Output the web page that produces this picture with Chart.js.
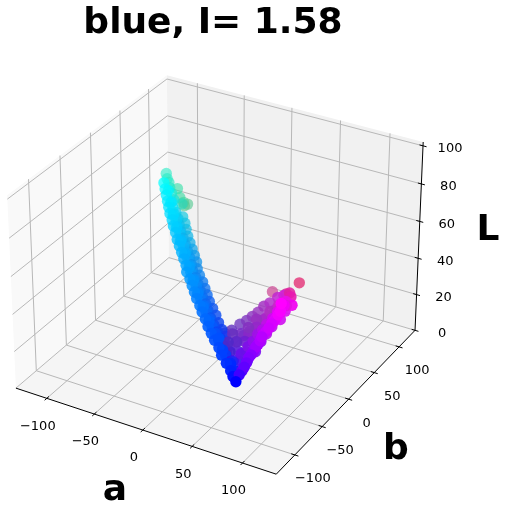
<!DOCTYPE html>
<html>
<head>
<meta charset="utf-8">
<style>
  html, body { margin: 0; padding: 0; background: #fff; }
  #c { display: block; }
</style>
<script src="https://cdn.jsdelivr.net/npm/chart.js@4"></script>
</head>
<body>
<canvas id="c" width="508" height="507"></canvas>
<script>
const titleText = 'blue, I= 1.58';
const aTicks = [-100, -50, 0, 50, 100];
const bTicks = [-100, -50, 0, 50, 100];
const lTicks = [0, 20, 40, 60, 80, 100];

// Lab values. Rows: teal end, saturated arm, duller arm rows,
// magenta edge, purple rows, stray pinks, purple fill
const aVals = [
  -57, -55, -52, -50, -47, -45, -42, -40, -37, -38, -38, -43,
  -48, -45, -42, -39, -36, -33, -29, -26, -22, -18, -14, -10, -6, -2, 1, 6, 10, 14, 18, 23, 27, 32, 37, 42, 47, 53, 58, 65, 71, 75, 79,
  -39, -36, -33, -29, -26, -22, -18, -14, -10, -6, -2, 1, 6, 10, 14, 18, 23, 27, 32, 37, 42, 47, 53, 58, 65, 71,
  -33, -29, -26, -22, -18, -14, -10, -6, -2, 1, 6, 10, 14, 18, 23, 27, 32, 37, 42, 47, 53, 58, 65,
  -43, -37, -31, -24, -16, -8, 0, 8, 16, 25, 35, 50, 56, 68,
  -29, -22, -14, -6, 1, 10, 18, 27, 37, 47,
  -25, -18, -10, -2, 5, 14, 22, 32, 42,
  80, 82, 83, 85, 86, 88, 89, 92, 94, 96, 96,
  81, 82.5, 84, 85.5, 87, 88.5, 90.5, 93, 95, 97,
  38, 44, 50, 55, 59, 63, 67, 72, 78, 84,
  52, 57, 62, 66, 70, 74, 78, 83, 88, 92,
  65, 70, 74, 77, 79, 82, 84, 88, 91, 95,
  84, 71, 83, 88, 92,
  64, 71, 76,
  60, 66, 72, 79,
  57, 63, 69, 75, 81,
  57, 63, 69, 75, 82,
  68, 74, 80, 85,
  72, 78, 85, 90,
  82, 87, 93,
  88, 94, 98
];
const bVals = [
  5, 3, 1, -1, -3, 4, 3, 6, 8, 4, 0, -6,
  -14, -17, -20, -23, -26, -29, -32, -35, -38, -42, -45, -48, -51, -54, -58, -61, -64, -67, -70, -73, -76, -79, -83, -86, -89, -92, -96, -100, -103, -106, -108,
  -16, -19, -22, -25, -28, -31, -35, -38, -41, -44, -47, -51, -54, -57, -60, -63, -66, -69, -72, -76, -79, -82, -85, -89, -93, -96,
  -19, -22, -25, -29, -32, -35, -38, -41, -45, -48, -51, -54, -57, -60, -63, -66, -70, -73, -76, -79, -83, -87, -90,
  -15, -21, -27, -33, -40, -46, -52, -59, -65, -71, -78, -87, -91, -98,
  -14, -20, -27, -33, -40, -46, -52, -58, -65, -71,
  -17, -24, -30, -36, -43, -49, -55, -61, -68,
  -104, -99, -93, -89, -86, -82, -78, -74, -69, -65, -60,
  -101, -96, -91, -87, -84, -80, -76, -71, -67, -63,
  -56, -54, -50, -47, -44, -41, -38, -36, -33, -33,
  -72, -68, -64, -61, -58, -54, -50, -47, -45, -44,
  -88, -83, -78, -74, -70, -67, -63, -60, -57, -53,
  -5, -30, -27, -30, -35,
  -90, -86, -83,
  -85, -81, -78, -74,
  -83, -79, -75, -72, -68,
  -75, -71, -68, -64, -60,
  -67, -63, -59, -56,
  -60, -56, -53, -50,
  -54, -50, -47,
  -50, -47, -44
];
const lVals = [
  90, 88, 87, 85, 83, 84, 80, 77, 76, 76, 78, 81,
  91, 89, 87, 85, 83, 81, 79, 77, 75, 73, 71, 69, 67, 65, 63, 61, 59, 57, 55, 53, 51, 49, 47, 45, 43, 41, 39, 37, 35, 33.5, 32,
  83, 81, 79, 77, 75, 73, 71, 69, 67, 65, 63, 61, 59, 57, 55, 53, 51, 49, 47, 45, 43, 41, 39, 37, 35, 33,
  79, 77, 75, 73, 71, 69, 67, 65, 63, 61, 59, 57, 55, 53, 51, 49, 47, 45, 43, 41, 39, 37, 35,
  88, 84, 80, 76, 72, 68, 64, 60, 56, 52, 48, 44, 40, 36,
  76, 72, 68, 64, 60, 56, 52, 48, 44, 40,
  74, 70, 66, 62, 58, 54, 50, 46, 42,
  34.6, 37.5, 40.9, 43, 45, 47.5, 50, 52.5, 55, 57.5, 62,
  36, 39, 42, 44, 46, 49, 51, 54, 56, 59,
  36, 38, 41, 43, 45, 47, 50, 52, 55, 57,
  36, 38, 41, 43, 45, 48, 50, 53, 56, 58,
  35, 38, 41, 43, 46, 48, 50, 53, 56, 59,
  56, 56, 56, 58, 58,
  35, 35, 35,
  38, 38, 38, 38,
  42, 42, 42, 42, 42,
  44, 44, 44, 44, 44,
  47, 47, 47, 47,
  50, 50, 50, 50,
  54, 54, 54,
  57, 57, 57
];
const pointColors = [
  '#30ECC8', '#28ECC8', '#28E8C0', '#20E8C8', '#18E8D0', '#38E0A8', '#38D8A0', '#48D098', '#50C890', '#58C890', '#28D8C0', '#18E0D8',
  '#00FFFF', '#00F8FF', '#00F0FF', '#00EAFF', '#00E4FF', '#00DEFF', '#00D6FF', '#00D0FF', '#00C8FF', '#00C0FF', '#00BAFF', '#00B4FF', '#00ACFF', '#00A6FF', '#009EFF', '#0098FF', '#0090FF', '#0088FF', '#0080FF', '#0078FF', '#0070FF', '#0068FF', '#0060FF', '#0058FF', '#0050FF', '#0048FF', '#0040FF', '#0030FF', '#0024FF', '#0010FF', '#0000FF',
  '#06E6F6', '#06E0F8', '#06D8F8', '#06D0FA', '#06CAFA', '#06C2FA', '#06BCFA', '#06B4FA', '#06AEFA', '#06A6FA', '#069EFA', '#0698FA', '#0690FA', '#0688FA', '#0680FA', '#0678FA', '#0670FA', '#0668FA', '#0660FA', '#0658FA', '#0650FA', '#0648FA', '#0640FA', '#0638FA', '#0628FA', '#0618FA',
  '#0CCCE8', '#0CC6E8', '#0CBEEA', '#0CB8EC', '#0CB0EC', '#0CA8EE', '#0CA0EE', '#0C98F0', '#0C90F0', '#0C8AF0', '#0C84F0', '#0C7CF0', '#0C74F0', '#0C6CF2', '#0C64F2', '#0C5CF2', '#0C54F2', '#0C4CF2', '#0C44F4', '#0C3CF4', '#1034F4', '#1830F4', '#2028F4',
  '#00F4FF', '#00E6FF', '#00DAFF', '#00CCFF', '#00BEFF', '#00B0FF', '#00A2FF', '#0094FF', '#0084FF', '#0074FF', '#0064FF', '#0050FF', '#0040FF', '#0028FF',
  '#10C8E0', '#10BCE4', '#10ACE8', '#109CEA', '#108CEC', '#107CEE', '#106CF0', '#1058F0', '#1048F0', '#1838F0',
  '#10C2E2', '#10B4E6', '#10A4E9', '#1094EB', '#1084ED', '#1074EF', '#1062F0', '#1050F0', '#1040F0',
  '#4000FF', '#6000FF', '#8000FF', '#9000FF', '#A000FF', '#B000FF', '#C000FF', '#D000FF', '#E000FF', '#F000FF', '#FF00FF',
  '#5000FF', '#7000FF', '#8800FF', '#9800FF', '#A800FF', '#B800FF', '#C800FF', '#D800FF', '#E800FF', '#F800FF',
  '#5030C0', '#6030C0', '#7038C0', '#8038C0', '#8C38C0', '#9838C0', '#A030C0', '#B030C8', '#C028D0', '#D020D8',
  '#5020D0', '#6020D0', '#7828D0', '#8828D0', '#9828D0', '#A828D0', '#B028D0', '#C020D8', '#D818E0', '#E810E8',
  '#4810E8', '#6810E8', '#8010E8', '#9010E8', '#A010E8', '#B010E8', '#C010E8', '#D008F0', '#E008F0', '#F000F8',
  '#E32C73', '#D060A0', '#D82898', '#E020A0', '#E818B0',
  '#3010F0', '#4010F0', '#5008F8',
  '#4820D0', '#5820D8', '#6C18E0', '#7C10F0',
  '#5028C8', '#6028C8', '#7020D0', '#8418E0', '#9810F0',
  '#6830C0', '#7830C8', '#8828C8', '#9C20D8', '#B010E8',
  '#8430C0', '#9428C8', '#A820D8', '#BC10E8',
  '#9830C0', '#A828C8', '#BC20D8', '#D010F0',
  '#B030C0', '#C020D8', '#D810F0',
  '#C828C8', '#E010E0', '#F000F0'
];

const aLim = [-133, 133];
const bLim = [-133, 133];
const lLim = [0, 102];

// view from elev 30, azim -60, same camera as the original 3d axes
const boxW = 1.1429, boxH = 0.83, dist = 10;
function project(a, b, l) {
  const qx = (a - aLim[0]) / (aLim[1] - aLim[0]) * boxW - boxW / 2;
  const qy = (b - bLim[0]) / (bLim[1] - bLim[0]) * boxW - boxW / 2;
  const qz = (l - lLim[0]) / (lLim[1] - lLim[0]) * boxH - 0.4286;
  const xv = 0.866 * qx + 0.5 * qy;
  const yv = -0.25 * qx + 0.433 * qy + 0.866 * qz;
  const zv = 0.433 * qx - 0.75 * qy + 0.5 * qz;
  const d = dist - zv;
  return { x: xv / d, y: yv / d, z: zv };
}

const points = aVals.map((a, i) => {
  const p = project(a, bVals[i], lVals[i]);
  return { x: p.x, y: p.y, z: p.z, color: pointColors[i] };
});
points.sort((p, q) => p.z - q.z);
const zMin = points[0].z, zMax = points[points.length - 1].z;
const shaded = points.map(p => {
  const alpha = 0.6 + 0.4 * (p.z - zMin) / (zMax - zMin);
  return p.color + Math.round(alpha * 255).toString(16).padStart(2, '0');
});

function segment(from, to, color, width) {
  return {
    type: 'scatter', showLine: true, pointRadius: 0, fill: false,
    data: [project(...from), project(...to)],
    borderColor: color, borderWidth: width
  };
}
function pane(corners, color) {
  const pts = corners.concat([corners[0]]).map(c => project(...c));
  return {
    type: 'scatter', showLine: true, pointRadius: 0, fill: 'shape',
    data: pts, backgroundColor: color, borderColor: color, borderWidth: 0
  };
}

const [a0, a1] = aLim, [b0, b1] = bLim, [l0, l1] = lLim;
const gridColor = '#b8b8b8';
const sets = [];
sets.push(pane([[a0, b0, l0], [a0, b1, l0], [a0, b1, l1], [a0, b0, l1]], '#f9f9f9'));
sets.push(pane([[a0, b1, l0], [a1, b1, l0], [a1, b1, l1], [a0, b1, l1]], '#f1f1f1'));
sets.push(pane([[a0, b0, l0], [a1, b0, l0], [a1, b1, l0], [a0, b1, l0]], '#f5f5f5'));
aTicks.forEach(v => {
  sets.push(segment([v, b0, l0], [v, b1, l0], gridColor, 1));
  sets.push(segment([v, b1, l0], [v, b1, l1], gridColor, 1));
});
bTicks.forEach(v => {
  sets.push(segment([a0, v, l0], [a1, v, l0], gridColor, 1));
  sets.push(segment([a0, v, l0], [a0, v, l1], gridColor, 1));
});
lTicks.forEach(v => {
  sets.push(segment([a0, b0, v], [a0, b1, v], gridColor, 1));
  sets.push(segment([a0, b1, v], [a1, b1, v], gridColor, 1));
});
sets.push(segment([a0, b0, l0], [a1, b0, l0], '#000', 1));
sets.push(segment([a1, b0, l0], [a1, b1, l0], '#000', 1));
sets.push(segment([a1, b1, l0], [a1, b1, l1], '#000', 1));
aTicks.forEach(v => sets.push(segment([v, b0 - 3.5, l0], [v, b0 + 3.5, l0], '#000', 1)));
bTicks.forEach(v => sets.push(segment([a1 - 3.5, v, l0], [a1 + 3.5, v, l0], '#000', 1)));
lTicks.forEach(v => sets.push(segment([a1 - 3.5, b1, v], [a1 + 3.5, b1, v], '#000', 1)));
sets.push({
  type: 'scatter', data: points, pointRadius: 5.7, pointBorderWidth: 0,
  pointBackgroundColor: shaded, showLine: false
});
// draw in list order
sets.forEach((s, i) => { s.order = sets.length - i; s.tension = 0; });

const textPlugin = {
  id: 'labels3d',
  afterDraw(chart) {
    const { ctx, scales } = chart;
    const px = p => [scales.x.getPixelForValue(p.x), scales.y.getPixelForValue(p.y)];
    ctx.save();
    ctx.fillStyle = '#000';
    ctx.textAlign = 'center';
    ctx.textBaseline = 'middle';
    ctx.font = '13px "DejaVu Sans"';
    const minus = v => String(v).replace('-', '\u2212');
    aTicks.forEach(v => {
      const [x, y] = px(project(v, b0, l0));
      ctx.fillText(minus(v), x - 9, y + 28);
    });
    bTicks.forEach(v => {
      const [x, y] = px(project(a1, v, l0));
      ctx.fillText(minus(v), x + 18, y + 24);
    });
    lTicks.forEach(v => {
      const [x, y] = px(project(a1, b1, v));
      ctx.fillText(minus(v), x + 27, y + 3);
    });
    ctx.font = 'bold 36px "DejaVu Sans"';
    ctx.fillText('a', 115, 491);
    ctx.fillText('b', 396, 450);
    ctx.fillText('L', 488, 231);
    ctx.fillText(titleText, 213, 24);
    ctx.restore();
  }
};

new Chart(document.getElementById('c').getContext('2d'), {
  type: 'scatter',
  data: { datasets: sets },
  options: {
    responsive: false,
    animation: false,
    events: [],
    clip: false,
    layout: { padding: 0, autoPadding: false },
    scales: {
      x: { type: 'linear', display: false, bounds: 'data', min: -0.0839, max: 0.1107 },
      y: { type: 'linear', display: false, bounds: 'data', min: -0.0922, max: 0.0988 }
    },
    plugins: { legend: { display: false }, tooltip: { enabled: false } }
  },
  plugins: [textPlugin]
});
</script>
</body>
</html>
